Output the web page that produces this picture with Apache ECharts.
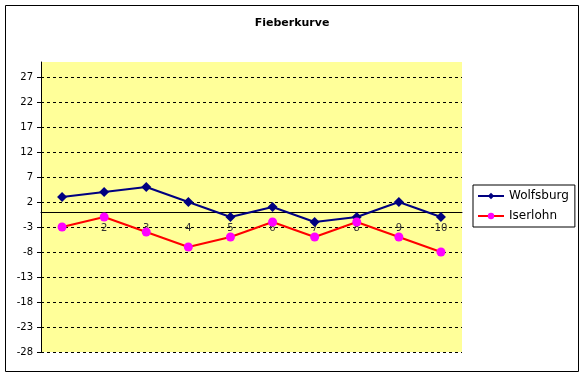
<!DOCTYPE html>
<html>
<head>
<meta charset="utf-8">
<script src="https://cdn.jsdelivr.net/npm/echarts@6/dist/echarts.min.js"></script>
<style>
  html, body { margin: 0; padding: 0; background: #fff; }
  #chart { width: 584px; height: 377px; }
</style>
</head>
<body>
<div id="chart"></div>
<script>
// data
const categories = ['1', '2', '3', '4', '5', '6', '7', '8', '9', '10'];
const wolfsburg = [3, 4, 5, 2, -1, 1, -2, -1, 2, -1];
const iserlohn = [-3, -1, -4, -7, -5, -2, -5, -2, -5, -8];
const yTicks = [-28, -23, -18, -13, -8, -3, 2, 7, 12, 17, 22, 27];

const chart = echarts.init(document.getElementById('chart'));

// x axis sits on the zero line: 30 of 58 units below the top of a 290px grid
const gridTop = 62, gridBottom = 25, gridHeight = 377 - gridTop - gridBottom;
const yMin = -28, yMax = 30;
const zeroOffset = -Math.round(gridHeight * (0 - yMin) / (yMax - yMin));

const option = {
    animation: false,
    textStyle: { fontFamily: 'DejaVu Sans' },
    title: {
        text: 'Fieberkurve',
        left: 'center',
        top: 13,
        textStyle: { fontSize: 11, fontWeight: 'bold', color: '#000' }
    },
    graphic: [{
        type: 'rect',
        shape: { x: 5.5, y: 5.5, width: 573, height: 366 },
        style: { fill: 'none', stroke: '#000', lineWidth: 1 },
        silent: true
    }],
    legend: {
        orient: 'vertical',
        left: 473,
        top: 185,
        itemWidth: 26,
        itemHeight: 8,
        itemGap: 8,
        padding: [5, 6, 5, 4],
        borderColor: '#000',
        borderWidth: 1,
        textStyle: { fontSize: 12, color: '#000' },
        data: ['Wolfsburg', 'Iserlohn']
    },
    grid: {
        left: 41,
        right: 122,
        top: gridTop,
        bottom: gridBottom,
        show: true,
        backgroundColor: '#ffff99',
        borderWidth: 0
    },
    xAxis: {
        type: 'category',
        data: categories,
        boundaryGap: true,
        position: 'bottom',
        offset: zeroOffset,
        axisLine: { onZero: false, lineStyle: { color: '#000', width: 1 } },
        axisTick: { inside: true, length: 4, lineStyle: { color: '#000' } },
        axisLabel: { fontSize: 10, color: '#333', margin: 11 },
        splitLine: { show: false }
    },
    yAxis: {
        type: 'value',
        min: yMin,
        max: yMax,
        axisLine: { show: true, lineStyle: { color: '#000', width: 1 } },
        axisTick: { show: true, length: 4, customValues: yTicks, lineStyle: { color: '#000' } },
        axisLabel: { fontSize: 10, color: '#000', margin: 8, customValues: yTicks },
        splitLine: { show: true, lineStyle: { color: '#000', type: [3, 3], width: 1 } }
    },
    series: [
        {
            name: 'Wolfsburg',
            type: 'line',
            data: wolfsburg,
            symbol: 'diamond',
            symbolSize: 10,
            itemStyle: { color: '#000080' },
            lineStyle: { color: '#000080', width: 2 }
        },
        {
            name: 'Iserlohn',
            type: 'line',
            data: iserlohn,
            symbol: 'circle',
            symbolSize: 9,
            itemStyle: { color: '#ff00ff' },
            lineStyle: { color: '#ff0000', width: 2 }
        }
    ]
};

chart.setOption(option);
</script>
</body>
</html>
